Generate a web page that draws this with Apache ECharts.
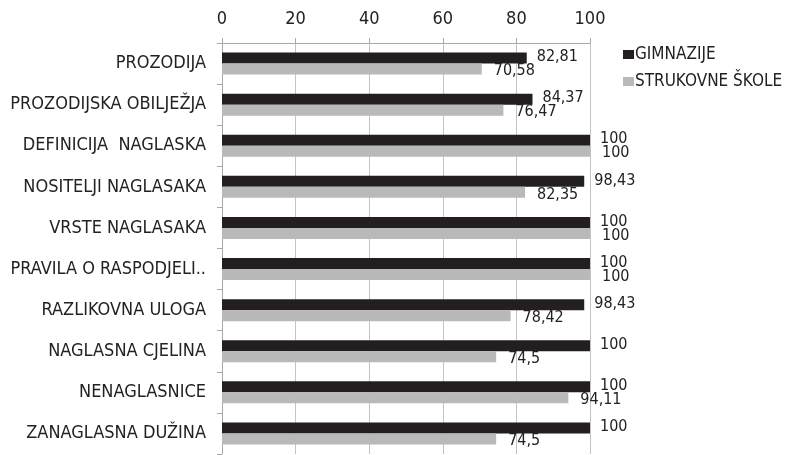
<!DOCTYPE html>
<html>
<head>
<meta charset="utf-8">
<script src="https://cdn.jsdelivr.net/npm/echarts@6/dist/echarts.min.js"></script>
<style>html,body{margin:0;padding:0;background:#fff}#c{width:788px;height:455px}</style>
</head>
<body>
<div id="c"></div>
<script>
var categories = ["PROZODIJA","PROZODIJSKA OBILJEŽJA","DEFINICIJA  NAGLASKA","NOSITELJI NAGLASAKA","VRSTE NAGLASAKA","PRAVILA O RASPODJELI..","RAZLIKOVNA ULOGA","NAGLASNA CJELINA","NENAGLASNICE","ZANAGLASNA DUŽINA"];
var gimnazije = [82.81, 84.37, 100, 98.43, 100, 100, 98.43, 100, 100, 100];
var strukovne = [70.58, 76.47, 100, 82.35, 100, 100, 78.42, 74.5, 94.11, 74.5];
var seriesNames = ["GIMNAZIJE", "STRUKOVNE ŠKOLE"];
var xTicks = [0, 20, 40, 60, 80, 100];

var font = "DejaVu Sans Condensed";
function fmt(p){ return String(p.value).replace('.', ','); }
var chart = echarts.init(document.getElementById('c'));
chart.setOption({
  animation: false,
  backgroundColor: '#fff',
  grid: {left: 222, right: 198, top: 43, bottom: 1, containLabel: false},
  legend: {
    orient: 'vertical', left: 618, top: 41, itemWidth: 11, itemHeight: 9, itemGap: 10,
    icon: 'rect',
    textStyle: {fontFamily: font, fontSize: 17, color: '#222', padding: [0,0,0,-4]},
    data: seriesNames
  },
  xAxis: {
    type: 'value', position: 'top', min: 0, max: 100, interval: 20,
    axisLine: {show: true, lineStyle: {color: '#a8a8a8', width: 1}},
    axisTick: {show: true, length: 5, lineStyle: {color: '#a8a8a8'}},
    splitLine: {show: true, lineStyle: {color: '#c4c4c4', width: 1}},
    axisLabel: {fontFamily: font, fontSize: 18, color: '#222', margin: 15,
      formatter: function(v){ return xTicks.indexOf(v) >= 0 ? String(v) : ''; }}
  },
  yAxis: {
    type: 'category', data: categories, inverse: true,
    axisLine: {show: true, lineStyle: {color: '#a8a8a8'}},
    axisTick: {show: true, length: 5, lineStyle: {color: '#a8a8a8'}},
    axisLabel: {fontFamily: font, fontSize: 18, color: '#222', margin: 16}
  },
  series: [
    {name: seriesNames[0], type: 'bar', data: gimnazije, barWidth: 11, barGap: '0%',
     itemStyle: {color: '#231f20'},
     label: {show: true, position: 'right', distance: 10, offset: [0, -1], formatter: fmt,
       fontFamily: font, fontSize: 16, color: '#222'}},
    {name: seriesNames[1], type: 'bar', data: strukovne, barWidth: 11, barGap: '0%',
     itemStyle: {color: '#b9b9b9'},
     label: {show: true, position: 'right', distance: 12, offset: [0, 2], formatter: fmt,
       fontFamily: font, fontSize: 16, color: '#222'}}
  ]
});
</script>
</body>
</html>
